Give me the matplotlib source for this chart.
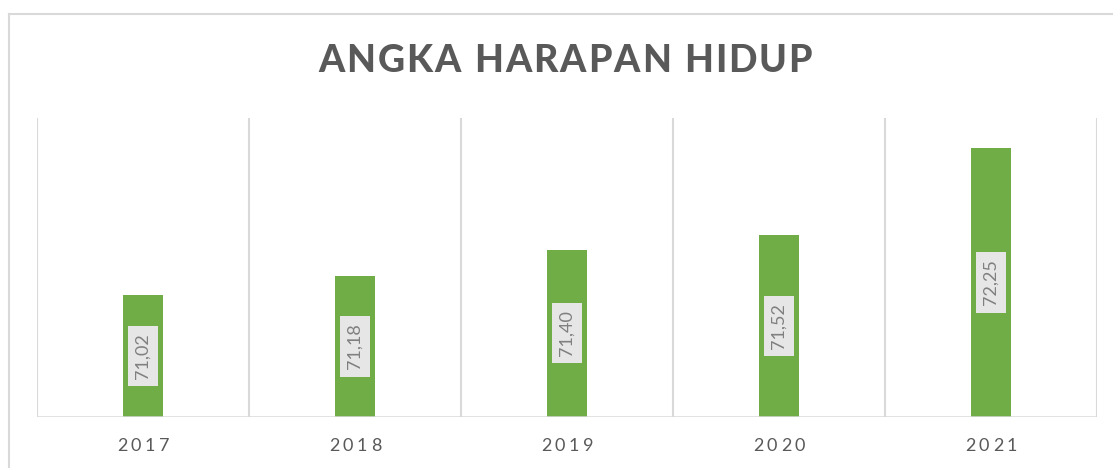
import matplotlib
matplotlib.use("Agg")
import matplotlib.pyplot as plt
from matplotlib.transforms import IdentityTransform
from matplotlib.lines import Line2D

years = ["2017", "2018", "2019", "2020", "2021"]
values = [71.02, 71.18, 71.40, 71.52, 72.25]
labels = ["71,02", "71,18", "71,40", "71,52", "72,25"]
title = "ANGKA HARAPAN HIDUP"

W, H = 1113, 468
DPI = 100
fig = plt.figure(figsize=(W / DPI, H / DPI), dpi=DPI)
fig.patch.set_facecolor("white")
FONT = "Lato"

ax = fig.add_axes([37 / W, 1 - 417 / H, (1097 - 37) / W, (417 - 118) / H])
x = list(range(len(years)))
ax.bar(x, values, width=0.185, color="#70AD47", zorder=3, bottom=0)
ax.set_ylim(70, 72.5)
ax.set_xlim(-0.5, len(years) - 0.5)
for s in ax.spines.values():
    s.set_visible(False)
ax.set_xticks([])
ax.set_yticks([])
for b in [i - 0.5 for i in range(len(years) + 1)]:
    ax.axvline(b, color="#d9d9d9", lw=1.5, zorder=1)
ax.axhline(70, color="#d9d9d9", lw=1.8, zorder=4)

for xi, v, lab in zip(x, values, labels):
    ax.text(xi, (70 + v) / 2, lab, rotation=90, ha="center", va="center",
            fontsize=13, color="#7f7f7f", family=FONT, zorder=5,
            bbox=dict(boxstyle="square,pad=0.4", fc="#e7e6e6", ec="none"))

# outer chart frame
fig.add_artist(Line2D([8.5, 8.5], [0, H - 14], transform=IdentityTransform(), color="#d9d9d9", lw=1.5))
fig.add_artist(Line2D([8.5, W], [H - 14, H - 14], transform=IdentityTransform(), color="#d9d9d9", lw=1.5))

fig.canvas.draw()
renderer = fig.canvas.get_renderer()


def char_w(ch, **kw):
    if ch == " ":
        a = fig.text(0, 0, "x x", **kw)
        b = fig.text(0, 0, "xx", **kw)
        w = a.get_window_extent(renderer).width - b.get_window_extent(renderer).width
        a.remove(); b.remove()
        return w
    t = fig.text(0, 0, ch, **kw)
    w = t.get_window_extent(renderer).width
    t.remove()
    return w


def spaced(s, cx, cy, spacing=None, total=None, **kw):
    widths = [char_w(c, **kw) for c in s]
    nat = sum(widths)
    if total is not None:
        spacing = (total - nat) / (len(s) - 1)
    tot = nat + spacing * (len(s) - 1)
    xpos = cx - tot / 2
    for c, w in zip(s, widths):
        if c != " ":
            fig.text(xpos, cy, c, transform=IdentityTransform(), ha="left", va="center", **kw)
        xpos += w + spacing


spaced(title, 565, H - 61, total=494, fontsize=27, fontweight="black", color="#595959", family=FONT)

for xi, yr in zip(x, years):
    px = ax.transData.transform((xi, 70))[0]
    spaced(yr, px, H - 446, spacing=3.5, fontsize=13, color="#595959", family=FONT)

fig.savefig("out.png", dpi=DPI, facecolor="white")
